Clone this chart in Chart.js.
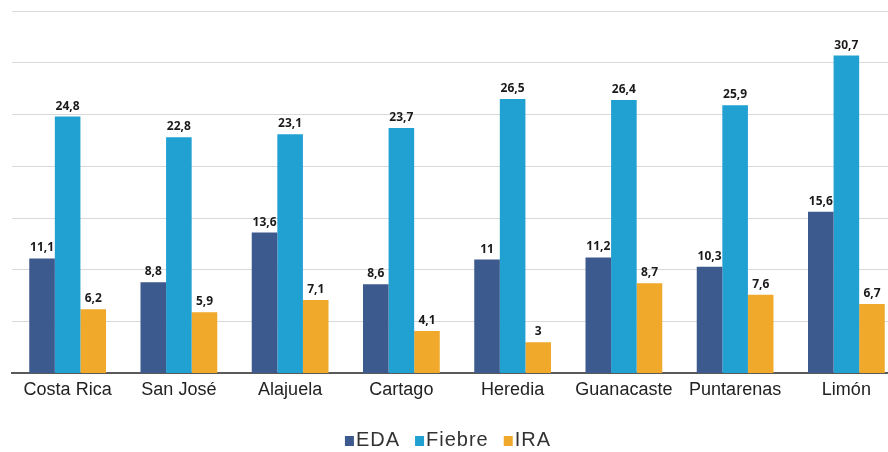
<!DOCTYPE html>
<html>
<head>
<meta charset="utf-8">
<script src="https://cdn.jsdelivr.net/npm/chart.js@4/dist/chart.umd.min.js"></script>
<style>
  html, body { margin: 0; padding: 0; background: #fff; overflow: hidden; }
  #wrap { position: relative; width: 902px; height: 452px; }
</style>
</head>
<body>
<div id="wrap"><canvas id="chartCanvas"></canvas></div>
<script>
const categories = ['Costa Rica', 'San José', 'Alajuela', 'Cartago', 'Heredia', 'Guanacaste', 'Puntarenas', 'Limón'];
const edaValues = [11.1, 8.8, 13.6, 8.6, 11, 11.2, 10.3, 15.6];
const fiebreValues = [24.8, 22.8, 23.1, 23.7, 26.5, 26.4, 25.9, 30.7];
const iraValues = [6.2, 5.9, 7.1, 4.1, 3, 8.7, 7.6, 6.7];

const labelFont = '"Liberation Sans", Arial, sans-serif';

// draws the value above each bar, decimal comma like the original
const barValueLabels = {
    id: 'barValueLabels',
    afterDatasetsDraw(chart) {
        const ctx = chart.ctx;
        ctx.save();
        ctx.font = 'bold 12px "Noto Sans", "DejaVu Sans", sans-serif';
        ctx.fillStyle = '#1a1a1a';
        ctx.textAlign = 'center';
        ctx.textBaseline = 'alphabetic';
        chart.data.datasets.forEach((ds, i) => {
            chart.getDatasetMeta(i).data.forEach((bar, j) => {
                ctx.fillText(String(ds.data[j]).replace('.', ','), bar.x, bar.y - 7);
            });
        });
        ctx.restore();
    }
};

// legend drawn by hand: box sits right against its text, like the original
const tightLegend = {
    id: 'tightLegend',
    afterDraw(chart) {
        const ctx = chart.ctx;
        const box = 9, gap = 2, spacing = 15;
        const y = 440;
        ctx.save();
        ctx.font = '20px ' + labelFont;
        ctx.letterSpacing = '1px';
        ctx.textBaseline = 'middle';
        const items = chart.data.datasets.map(ds => ({
            text: ds.label,
            color: ds.backgroundColor,
            w: box + gap + ctx.measureText(ds.label).width
        }));
        const total = items.reduce((s, it) => s + it.w, 0) + spacing * (items.length - 1);
        let x = 448 - total / 2;
        items.forEach(it => {
            ctx.fillStyle = it.color;
            ctx.fillRect(x, y - 4, box, 10);
            ctx.fillStyle = '#333';
            ctx.fillText(it.text, x + box + gap, y);
            x += it.w + spacing;
        });
        ctx.restore();
    }
};

const ctx = document.getElementById('chartCanvas').getContext('2d');
new Chart(ctx, {
    type: 'bar',
    data: {
        labels: categories,
        datasets: [
            { label: 'EDA', data: edaValues, backgroundColor: '#3d5a8e' },
            { label: 'Fiebre', data: fiebreValues, backgroundColor: '#21a0d2' },
            { label: 'IRA', data: iraValues, backgroundColor: '#f0a92a' }
        ]
    },
    options: {
        responsive: true,
        maintainAspectRatio: false,
        animation: false,
        datasets: {
            bar: { categoryPercentage: 0.69, barPercentage: 1.0 }
        },
        layout: { padding: { left: 12, right: 0, top: 11, bottom: 45 } },
        plugins: {
            legend: { display: false },
            tooltip: { enabled: false }
        },
        scales: {
            x: {
                grid: { display: false, drawTicks: false },
                border: { color: '#5a5a5a', width: 2 },
                ticks: {
                    color: '#222',
                    padding: 6,
                    font: { family: labelFont, size: 18 }
                }
            },
            y: {
                min: 0,
                max: 35,
                ticks: { display: false, stepSize: 5 },
                border: { display: false },
                grid: { color: '#d9d9d9', drawTicks: false }
            }
        }
    },
    plugins: [barValueLabels, tightLegend]
});
</script>
</body>
</html>
